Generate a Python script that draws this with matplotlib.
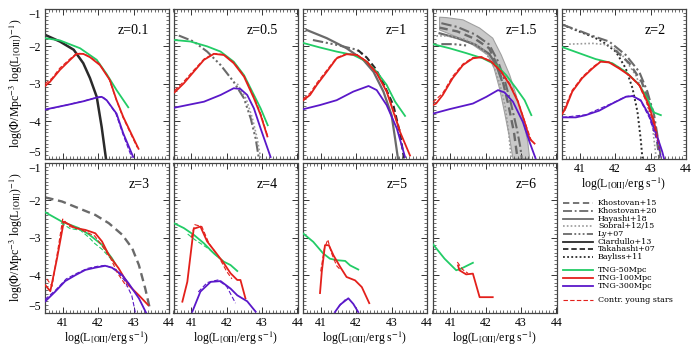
import matplotlib
matplotlib.use('Agg')
import matplotlib.pyplot as plt
from matplotlib.lines import Line2D
from matplotlib.ticker import MultipleLocator

plt.rcParams['font.family'] = ['Liberation Serif', 'DejaVu Serif']
plt.rcParams['mathtext.fontset'] = 'stix'

# ---------------- data: (log L[OII], log Phi) ----------------
redshift_labels = ['z=0.1', 'z=0.5', 'z=1', 'z=1.5', 'z=2', 'z=3', 'z=4', 'z=5', 'z=6']
x_ticks = [41, 42, 43, 44]
y_ticks = [-1, -2, -3, -4, -5]

# z = 0.1
z01_tng50 = [(40.5, -1.78), (40.92, -1.84), (41.49, -2.05), (41.96, -2.36), (42.24, -2.74), (42.52, -3.17), (42.85, -3.63)]
z01_tng100 = [(40.5, -3.06), (40.64, -2.95), (40.92, -2.63), (41.21, -2.36), (41.39, -2.20), (41.58, -2.20), (41.77, -2.29),
              (42.05, -2.50), (42.33, -2.90), (42.52, -3.44), (42.71, -3.89), (43.14, -4.74)]
z01_tng300 = [(40.5, -3.69), (41.11, -3.57), (41.58, -3.47), (41.96, -3.37), (42.10, -3.35), (42.24, -3.44), (42.52, -3.80),
              (42.71, -4.33), (42.99, -4.96)]
z01_young100 = [(40.5, -3.0), (40.7, -2.85), (40.92, -2.58), (41.21, -2.33), (41.4, -2.18), (41.6, -2.2), (41.8, -2.3),
                (42.05, -2.48), (42.3, -2.85), (42.5, -3.4), (42.7, -3.9), (43.1, -4.7)]
z01_young300 = [(40.5, -3.7), (41.1, -3.57), (41.6, -3.46), (42.0, -3.36), (42.12, -3.34), (42.25, -3.45), (42.5, -3.8),
                (42.7, -4.35), (42.95, -4.98)]
z01_ciardullo = [(40.5, -1.69), (40.92, -1.87), (41.31, -2.09), (41.58, -2.45), (41.77, -2.85), (41.96, -3.35), (42.10, -4.16), (42.22, -5.0)]

# z = 0.5
z05_tng50 = [(40.53, -1.83), (40.98, -1.87), (41.45, -2.00), (41.83, -2.14), (42.20, -2.41), (42.49, -2.77), (42.77, -3.30),
             (42.96, -3.66), (43.16, -4.11)]
z05_tng100 = [(40.53, -3.23), (40.79, -2.99), (41.07, -2.68), (41.36, -2.36), (41.64, -2.20), (41.92, -2.23), (42.20, -2.45),
              (42.49, -2.81), (42.77, -3.39), (42.96, -3.84), (43.15, -4.41)]
z05_tng300 = [(40.53, -3.64), (40.89, -3.57), (41.36, -3.48), (41.83, -3.30), (42.20, -3.12), (42.39, -3.14), (42.58, -3.30),
              (42.77, -3.66), (42.96, -4.20), (43.24, -4.96)]
z05_young100 = [(40.53, -3.18), (40.79, -2.94), (41.07, -2.64), (41.36, -2.34), (41.64, -2.19), (41.92, -2.22), (42.20, -2.43),
                (42.49, -2.78), (42.77, -3.35), (42.96, -3.8), (43.15, -4.38)]
z05_ly07 = [(40.65, -1.71), (41.07, -1.87), (41.45, -2.14), (41.83, -2.50), (42.20, -2.95), (42.49, -3.39), (42.68, -3.93),
            (42.82, -4.47), (42.91, -5.0)]
z05_sobral = [(42.3, -3.0), (42.55, -3.4), (42.72, -3.9), (42.86, -4.45), (42.96, -5.0)]

# z = 1
z1_tng50 = [(40.51, -1.91), (40.98, -2.03), (41.45, -2.14), (41.92, -2.23), (42.30, -2.41), (42.58, -2.68), (42.86, -3.03),
            (43.10, -3.48), (43.38, -3.86)]
z1_tng100 = [(40.51, -3.44), (40.70, -3.30), (40.89, -3.03), (41.17, -2.68), (41.45, -2.32), (41.73, -2.21), (42.02, -2.23),
             (42.30, -2.41), (42.58, -2.72), (42.86, -3.21), (43.05, -3.75), (43.24, -4.29), (43.52, -4.92)]
z1_tng300 = [(40.51, -3.68), (40.98, -3.57), (41.45, -3.44), (41.92, -3.21), (42.35, -3.06), (42.58, -3.17), (42.86, -3.57),
             (43.15, -4.20), (43.38, -4.96)]
z1_young100 = [(40.51, -3.4), (40.70, -3.25), (40.89, -2.98), (41.17, -2.64), (41.45, -2.3), (41.73, -2.2), (42.02, -2.22),
               (42.30, -2.4), (42.58, -2.7), (42.86, -3.18), (43.05, -3.7), (43.24, -4.25)]
z1_hayashi = [(40.60, -1.56), (41.17, -1.78), (41.73, -2.05), (42.20, -2.36), (42.49, -2.68), (42.77, -3.21), (43.0, -3.84),
              (43.10, -4.47), (43.18, -5.0)]
z1_ly07 = [(40.78, -1.83), (41.45, -1.96), (42.02, -2.09), (42.2, -2.22)]
z1_takahashi = [(42.05, -2.1), (42.3, -2.3), (42.55, -2.6), (42.77, -2.99), (43.05, -3.57), (43.24, -4.33), (43.35, -5.0)]

# z = 1.5
z15_tng50 = [(40.51, -1.94), (40.98, -2.05), (41.45, -2.18), (41.92, -2.32), (42.30, -2.50), (42.58, -2.77), (42.86, -3.12),
             (43.10, -3.44), (43.29, -3.84)]
z15_tng100 = [(40.51, -3.57), (40.60, -3.53), (40.79, -3.30), (41.07, -2.85), (41.36, -2.50), (41.64, -2.32), (41.88, -2.29),
              (42.16, -2.41), (42.44, -2.68), (42.68, -3.03), (42.91, -3.48), (43.10, -4.02), (43.24, -4.47), (43.38, -4.60)]
z15_tng300 = [(40.51, -3.80), (40.98, -3.68), (41.64, -3.53), (42.02, -3.35), (42.35, -3.17), (42.53, -3.23), (42.77, -3.48),
              (43.05, -4.02), (43.24, -4.56), (43.41, -5.0)]
z15_young100 = [(40.51, -3.5), (40.79, -3.25), (41.07, -2.8), (41.36, -2.47), (41.64, -2.3), (41.88, -2.28), (42.16, -2.4),
                (42.44, -2.66), (42.68, -3.0), (42.91, -3.45), (43.10, -4.0), (43.3, -4.55)]
z15_band_upper = [(40.70, -1.22), (40.89, -1.23), (41.36, -1.29), (41.83, -1.51), (42.20, -1.78), (42.44, -2.23), (42.68, -2.77),
                  (42.86, -3.30), (43.05, -3.93), (43.19, -4.56), (43.24, -5.0)]
z15_band_lower = [(40.70, -1.56), (41.17, -1.74), (41.64, -1.96), (42.06, -2.23), (42.24, -2.59), (42.39, -3.12), (42.53, -3.75),
                  (42.68, -4.47), (42.77, -5.0)]
z15_khostovan20 = [(40.75, -1.38), (41.2, -1.48), (41.7, -1.68), (42.1, -1.95), (42.35, -2.4), (42.55, -2.95), (42.72, -3.55),
                   (42.88, -4.2), (42.98, -4.7), (43.02, -5.0)]
z15_khostovan15 = [(40.7, -1.5), (41.2, -1.6), (41.7, -1.8), (42.1, -2.05), (42.3, -2.45), (42.5, -3.0), (42.65, -3.6),
                   (42.8, -4.3), (42.9, -5.0)]
z15_hayashi = [(40.7, -1.65), (41.2, -1.78), (41.7, -1.95), (42.1, -2.2), (42.3, -2.5), (42.45, -2.9)]
z15_sobral = [(40.5, -1.72), (40.9, -1.72), (41.4, -1.8), (41.9, -2.05), (42.2, -2.45), (42.4, -3.0), (42.55, -3.6),
              (42.65, -4.3), (42.72, -5.0)]
z15_ly07 = [(40.75, -1.94), (41.1, -1.94), (41.5, -1.98)]

# z = 2
z2_tng50 = [(40.51, -2.02), (40.98, -2.18), (41.45, -2.34), (41.92, -2.45), (42.30, -2.68), (42.68, -3.03), (42.91, -3.39),
            (43.10, -3.77), (43.29, -3.84)]
z2_tng100 = [(40.51, -3.80), (40.60, -3.66), (40.79, -3.21), (41.07, -2.85), (41.36, -2.59), (41.59, -2.41), (41.83, -2.43),
             (42.11, -2.59), (42.39, -2.77), (42.68, -3.03), (42.91, -3.48), (43.10, -4.02), (43.22, -4.56)]
z2_tng300 = [(40.51, -3.90), (40.89, -3.90), (41.17, -3.84), (41.55, -3.72), (41.92, -3.53), (42.30, -3.35), (42.49, -3.33),
             (42.72, -3.44), (42.96, -3.84), (43.19, -4.42), (43.33, -4.82), (43.38, -5.0)]
z2_young100 = [(40.55, -3.7), (40.79, -3.17), (41.07, -2.82), (41.36, -2.56), (41.59, -2.4), (41.83, -2.42), (42.11, -2.57),
               (42.39, -2.76), (42.68, -3.05), (42.91, -3.55), (43.1, -4.1), (43.25, -4.75)]
z2_young300 = [(40.51, -3.9), (41.17, -3.83), (41.92, -3.52), (42.30, -3.34), (42.49, -3.32), (42.72, -3.46), (42.96, -3.9),
               (43.19, -4.55), (43.3, -4.98)]
z2_bayliss = [(40.51, -1.42), (40.98, -1.60), (41.36, -1.74), (41.64, -1.87), (42.02, -2.14), (42.30, -2.59), (42.49, -3.12),
              (42.63, -3.75), (42.72, -4.47), (42.77, -5.0)]
z2_khostovan20 = [(40.51, -1.42), (40.98, -1.58), (41.36, -1.72), (41.83, -1.87), (42.30, -2.23), (42.68, -2.68),
                  (42.91, -3.21), (43.10, -3.84), (43.24, -4.65), (43.29, -5.0)]
z2_sobral = [(40.70, -1.94), (41.36, -1.92), (41.83, -1.96), (42.2, -2.23), (42.58, -2.77), (42.86, -3.39), (43.05, -4.11),
             (43.16, -5.0)]
z2_khostovan15 = [(42.0, -2.1), (42.4, -2.45), (42.75, -2.95), (43.0, -3.6), (43.15, -4.3), (43.25, -5.0)]

# z = 3
z3_tng50 = [(40.51, -2.32), (40.98, -2.57), (41.45, -2.74), (41.74, -2.91), (42.11, -3.19), (42.39, -3.55), (42.49, -3.71)]
z3_tng100 = [(40.51, -4.27), (40.65, -4.43), (40.84, -3.55), (41.03, -2.57), (41.17, -2.64), (41.36, -2.74), (41.64, -2.79),
             (41.92, -2.88), (42.11, -3.10), (42.30, -3.46), (42.58, -3.82), (42.86, -4.27), (43.15, -4.54), (43.41, -4.80)]
z3_tng300 = [(40.51, -4.70), (40.79, -4.44), (41.07, -4.16), (41.36, -4.00), (41.64, -3.86), (41.92, -3.80), (42.20, -3.75),
             (42.39, -3.80), (42.68, -4.00), (42.86, -4.22), (43.15, -4.62), (43.35, -5.0)]
z3_young50 = [(40.95, -2.6), (41.2, -2.75), (41.5, -2.8), (41.75, -3.0), (41.9, -3.15), (42.1, -3.3), (42.4, -3.6)]
z3_young100 = [(40.55, -4.1), (40.7, -4.3), (40.85, -3.4), (41.0, -2.5), (41.2, -2.7), (41.5, -2.78), (41.9, -2.95),
               (42.1, -3.2), (42.35, -3.55), (42.55, -3.95), (42.8, -4.3)]
z3_young300 = [(40.5, -4.65), (40.8, -4.4), (41.1, -4.1), (41.4, -3.95), (41.7, -3.82), (42.0, -3.76), (42.2, -3.74),
               (42.5, -3.85), (42.75, -4.15), (42.95, -4.55), (43.05, -5.0)]
z3_khostovan15 = [(40.51, -1.92), (40.98, -2.03), (41.45, -2.21), (41.92, -2.39), (42.30, -2.61), (42.68, -2.92),
                  (42.96, -3.28), (43.15, -3.73), (43.33, -4.36), (43.47, -4.94)]

# z = 4
z4_tng50 = [(40.51, -2.61), (40.79, -2.74), (41.07, -2.92), (41.36, -3.15), (41.64, -3.42), (41.92, -3.64), (42.11, -3.73), (42.30, -3.89)]
z4_tng100 = [(40.75, -4.71), (40.89, -4.18), (41.07, -2.76), (41.26, -2.70), (41.45, -3.10), (41.64, -3.33), (41.92, -3.68),
             (42.11, -3.95), (42.30, -4.13), (42.39, -4.13), (42.53, -4.62)]
z4_tng300 = [(41.03, -4.98), (41.26, -4.44), (41.55, -4.18), (41.83, -4.16), (42.11, -4.36), (42.30, -4.54), (42.58, -4.70), (42.82, -4.98)]
z4_young50 = [(40.9, -2.9), (41.1, -3.05), (41.5, -3.3), (41.8, -3.55)]
z4_young100 = [(41.0, -3.0), (41.1, -2.65), (41.3, -2.7), (41.5, -3.15), (41.8, -3.55), (42.0, -3.9), (42.15, -4.1)]
z4_young300 = [(41.2, -4.45), (41.45, -4.2), (41.75, -4.13), (42.0, -4.3), (42.25, -4.75)]

# z = 5
z5_tng50 = [(40.51, -2.89), (40.79, -3.11), (41.07, -3.42), (41.26, -3.56), (41.45, -3.60), (41.69, -3.62), (41.83, -3.74), (42.06, -3.85)]
z5_tng100 = [(40.98, -4.48), (41.03, -3.91), (41.12, -3.20), (41.23, -3.20), (41.36, -3.47), (41.55, -3.78), (41.73, -4.05),
             (41.97, -4.14), (42.16, -4.32), (42.37, -4.75)]
z5_tng300 = [(41.40, -4.99), (41.55, -4.79), (41.78, -4.62), (41.92, -4.77), (42.06, -4.99)]
z5_young100 = [(41.0, -3.9), (41.1, -3.3), (41.2, -3.05), (41.3, -3.4), (41.45, -3.75), (41.55, -3.85)]
z5_young300 = [(41.5, -4.85), (41.7, -4.65)]

# z = 6
z6_tng50 = [(40.51, -3.17), (40.84, -3.56), (41.17, -3.87), (41.30, -3.83), (41.64, -3.67)]
z6_tng100 = [(41.22, -3.74), (41.26, -3.87), (41.45, -3.98), (41.64, -3.96), (41.83, -4.59), (42.20, -4.59)]
z6_young100 = [(41.2, -3.65), (41.35, -3.85), (41.5, -3.95)]

legend_labels = ['Khostovan+15', 'Khostovan+20', 'Hayashi+18', 'Sobral+12/15', 'Ly+07', 'Ciardullo+13',
                 'Takahashi+07', 'Bayliss+11', 'TNG-50Mpc', 'TNG-100Mpc', 'TNG-300Mpc', 'Contr. young stars']

# ---------------- styles ----------------
C50, C100, C300 = '#22cc66', '#e3201b', '#5a18c9'
GRAY, LGRAY, BLK = '#6a6a6a', '#9a9a9a', '#2a2a2a'
STY = {
    'tng50': dict(color=C50, lw=1.3),
    'tng100': dict(color=C100, lw=1.3),
    'tng300': dict(color=C300, lw=1.3),
    'young50': dict(color=C50, lw=0.8, dashes=(4, 2)),
    'young100': dict(color=C100, lw=0.8, dashes=(4, 2)),
    'young300': dict(color=C300, lw=0.8, dashes=(4, 2)),
    'khostovan15': dict(color=GRAY, lw=1.7, dashes=(3.5, 2)),
    'khostovan20': dict(color=GRAY, lw=1.5, dashes=(5, 1.5, 1, 1.5)),
    'hayashi': dict(color=GRAY, lw=1.6),
    'sobral': dict(color=LGRAY, lw=1.2, dashes=(1, 1.3)),
    'ly07': dict(color=GRAY, lw=1.5, dashes=(5, 1.3, 1, 1.3, 1, 1.3, 1, 1.3)),
    'ciardullo': dict(color=BLK, lw=1.8),
    'takahashi': dict(color=BLK, lw=1.5, dashes=(3, 1.6)),
    'bayliss': dict(color=BLK, lw=1.4, dashes=(1, 1.3)),
}
OBS_KEYS = ('khostovan15', 'khostovan20', 'hayashi', 'sobral', 'ly07', 'ciardullo', 'takahashi', 'bayliss')

W, H = 698, 349
fig = plt.figure(figsize=(W / 100, H / 100), dpi=100)

col_x = [45, 173.5, 303, 432.5, 562]
row_y = [9, 163]
PW, PH = 124, 149.5

def add_panel(col, row):
    x0, y0 = col_x[col], row_y[row]
    return fig.add_axes([x0 / W, 1 - (y0 + PH) / H, PW / W, PH / H])

def draw(ax, data, key, zorder=3):
    xs = [p[0] for p in data]
    ys = [p[1] for p in data]
    ax.plot(xs, ys, zorder=zorder, **STY[key])

XLABEL = r'log(L$_{\rm [OII]}$/erg s$^{-1}$)'
YLABEL = r'log($\Phi$/Mpc$^{-3}$ log(L$_{\rm [OII]}$)$^{-1}$)'

panels = [
    (0, 0, [('ciardullo', z01_ciardullo), ('tng50', z01_tng50), ('tng100', z01_tng100), ('tng300', z01_tng300),
            ('young100', z01_young100), ('young300', z01_young300)]),
    (1, 0, [('ly07', z05_ly07), ('sobral', z05_sobral), ('tng50', z05_tng50), ('tng100', z05_tng100),
            ('tng300', z05_tng300), ('young100', z05_young100)]),
    (2, 0, [('hayashi', z1_hayashi), ('ly07', z1_ly07), ('takahashi', z1_takahashi), ('tng50', z1_tng50),
            ('tng100', z1_tng100), ('tng300', z1_tng300), ('young100', z1_young100)]),
    (3, 0, [('khostovan20', z15_khostovan20), ('khostovan15', z15_khostovan15), ('hayashi', z15_hayashi),
            ('sobral', z15_sobral), ('ly07', z15_ly07), ('tng50', z15_tng50), ('tng100', z15_tng100),
            ('tng300', z15_tng300), ('young100', z15_young100)]),
    (4, 0, [('bayliss', z2_bayliss), ('khostovan20', z2_khostovan20), ('sobral', z2_sobral),
            ('khostovan15', z2_khostovan15), ('tng50', z2_tng50), ('tng100', z2_tng100), ('tng300', z2_tng300),
            ('young100', z2_young100), ('young300', z2_young300)]),
    (0, 1, [('khostovan15', z3_khostovan15), ('tng50', z3_tng50), ('tng100', z3_tng100), ('tng300', z3_tng300),
            ('young50', z3_young50), ('young100', z3_young100), ('young300', z3_young300)]),
    (1, 1, [('tng50', z4_tng50), ('tng100', z4_tng100), ('tng300', z4_tng300), ('young50', z4_young50),
            ('young100', z4_young100), ('young300', z4_young300)]),
    (2, 1, [('tng50', z5_tng50), ('tng100', z5_tng100), ('tng300', z5_tng300), ('young100', z5_young100),
            ('young300', z5_young300)]),
    (3, 1, [('tng50', z6_tng50), ('tng100', z6_tng100), ('young100', z6_young100)]),
]

for i, (col, row, series) in enumerate(panels):
    ax = add_panel(col, row)
    if i == 3:
        bx = [p[0] for p in z15_band_upper] + [p[0] for p in z15_band_lower[::-1]]
        by = [p[1] for p in z15_band_upper] + [p[1] for p in z15_band_lower[::-1]]
        ax.fill(bx, by, color='#c9c9c9', ec='#a0a0a0', lw=0.8, zorder=1)
    for key, data in series:
        z = 2 if key in OBS_KEYS else 3
        if key.startswith('young'):
            z = 4
        draw(ax, data, key, zorder=z)
    ax.set_xlim(40.5, 44.0)
    ax.set_ylim(-5.0, -1.0)
    ax.set_xticks(x_ticks)
    ax.set_yticks(y_ticks)
    ax.xaxis.set_minor_locator(MultipleLocator(0.1))
    ax.yaxis.set_minor_locator(MultipleLocator(0.1))
    ax.tick_params(which='both', direction='in', top=True, right=True, labelsize=8.5, colors='#333333',
                   labelcolor='black', pad=3)
    ax.tick_params(which='major', length=4, width=0.7)
    ax.tick_params(which='minor', length=2, width=0.5)
    for s in ax.spines.values():
        s.set_color('#444444')
        s.set_linewidth(0.9)
    if col != 0:
        ax.set_yticklabels([])
    else:
        ax.set_ylabel(YLABEL, fontsize=8.5, labelpad=2)
        yt = ax.yaxis.get_major_ticks()
        yt[0].label1.set_verticalalignment('top')      # -1 label sits just below the top edge
        yt[-1].label1.set_verticalalignment('bottom')  # -5 label sits just above the bottom edge
    if row == 0 and col != 4:
        ax.set_xticklabels([])
    else:
        ax.set_xlabel(XLABEL, fontsize=8.5, labelpad=1)
    ax.text(0.84, 0.855, redshift_labels[i], transform=ax.transAxes, ha='right', va='center', fontsize=10)

# ---------------- legend (figure coordinates) ----------------
leg_keys = ['khostovan15', 'khostovan20', 'hayashi', 'sobral', 'ly07', 'ciardullo', 'takahashi', 'bayliss',
            'tng50', 'tng100', 'tng300', 'young100']
leg_y = [203.3, 211, 218.7, 226.3, 234, 241.7, 249.3, 257.0, 269.7, 277.5, 285.5, 299.7]
for key, lab, yy in zip(leg_keys, legend_labels, leg_y):
    st = dict(STY[key])
    st['lw'] = min(st['lw'], 1.3)
    fig.add_artist(Line2D([563 / W, 593 / W], [1 - yy / H, 1 - yy / H], transform=fig.transFigure, **st))
    fig.text(598 / W, 1 - yy / H, lab, fontsize=5.8, family='DejaVu Serif', va='center', ha='left')

fig.savefig('out.png', dpi=100)
